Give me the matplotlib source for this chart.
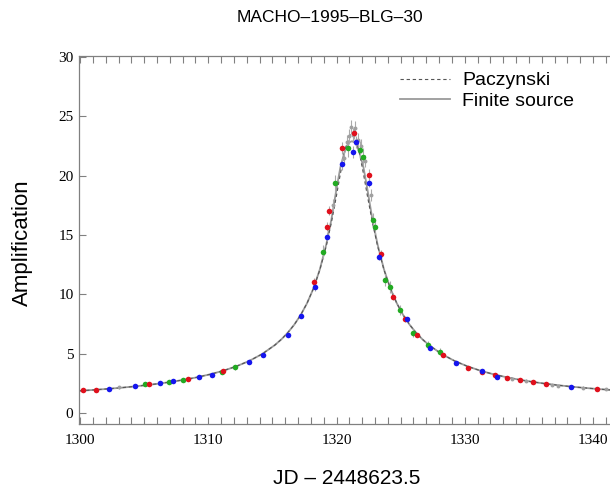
import matplotlib
matplotlib.use('Agg')
import matplotlib.pyplot as plt
from matplotlib.ticker import MultipleLocator

# model curves (JD - 2448623.5 vs amplification)
model_t = [1300.0, 1301.2, 1302.2, 1303.2, 1304.2, 1305.2, 1306.2, 1307.2, 1308.2, 1309.2,
           1310.2, 1311.2, 1312.2, 1313.2, 1314.2, 1315.2, 1315.7, 1316.2, 1316.7, 1317.2,
           1317.7, 1318.2, 1318.7, 1319.2, 1319.6, 1320.0, 1320.3, 1320.6, 1320.8, 1321.0,
           1321.2, 1321.4, 1321.6, 1321.8, 1322.1, 1322.4, 1322.8, 1323.2, 1323.7, 1324.2,
           1324.7, 1325.2, 1325.7, 1326.2, 1326.7, 1327.2, 1328.2, 1329.2, 1330.2, 1331.2,
           1332.2, 1333.2, 1334.2, 1335.2, 1336.2, 1337.2, 1338.2, 1339.2, 1340.2, 1341.2,
           1341.6]
paczynski_A = [1.867, 1.953, 2.035, 2.126, 2.230, 2.347, 2.480, 2.634, 2.813, 3.023,
               3.271, 3.569, 3.934, 4.388, 4.967, 5.728, 6.204, 6.765, 7.435, 8.247,
               9.244, 10.488, 12.063, 14.069, 16.044, 18.334, 20.150, 21.838, 22.739, 23.335,
               23.545, 23.335, 22.739, 21.838, 20.150, 18.334, 16.044, 14.069, 12.063, 10.488,
               9.244, 8.247, 7.435, 6.765, 6.204, 5.728, 4.967, 4.388, 3.934, 3.569,
               3.271, 3.023, 2.813, 2.634, 2.480, 2.347, 2.230, 2.126, 2.035, 1.953,
               1.925]
finite_A = [1.867, 1.953, 2.035, 2.126, 2.230, 2.347, 2.480, 2.634, 2.813, 3.023,
            3.271, 3.569, 3.934, 4.388, 4.967, 5.728, 6.204, 6.765, 7.435, 8.247,
            9.244, 10.488, 12.1, 14.2, 16.3, 18.9, 20.7, 21.9, 22.5, 22.8,
            22.9, 22.8, 22.5, 21.9, 20.7, 18.9, 16.3, 14.2, 12.1, 10.488,
            9.244, 8.247, 7.435, 6.765, 6.204, 5.728, 4.967, 4.388, 3.934, 3.569,
            3.271, 3.023, 2.813, 2.634, 2.480, 2.347, 2.230, 2.126, 2.035, 1.953,
            1.925]

# observed points
red_t = [1300.26, 1301.22, 1305.4, 1308.44, 1311.17, 1318.24, 1319.23, 1319.43, 1320.45, 1321.36,
         1322.55, 1323.46, 1324.42, 1325.33, 1326.29, 1328.32, 1330.27, 1331.35, 1332.35, 1333.26,
         1334.29, 1335.33, 1336.32, 1340.32]
red_A = [1.94, 1.94, 2.42, 2.86, 3.51, 11.06, 15.7, 17.04, 22.3, 23.6,
         20.05, 13.4, 9.8, 7.9, 6.57, 4.89, 3.82, 3.45, 3.20, 2.97,
         2.78, 2.64, 2.44, 2.05]
red_err = [0.1, 0.1, 0.1, 0.1, 0.15, 0.3, 0.4, 0.4, 0.5, 0.5,
           0.5, 0.3, 0.3, 0.2, 0.2, 0.15, 0.1, 0.1, 0.1, 0.1,
           0.1, 0.1, 0.1, 0.1]

blue_t = [1302.29, 1304.29, 1306.24, 1307.22, 1309.3, 1310.26, 1313.2, 1314.24, 1316.24, 1317.22,
          1318.3, 1319.23, 1320.4, 1321.3, 1321.51, 1322.55, 1323.33, 1325.46, 1327.28, 1329.31,
          1331.31, 1332.48, 1338.32]
blue_A = [2.05, 2.30, 2.55, 2.67, 3.06, 3.23, 4.32, 4.89, 6.6, 8.17,
          10.6, 14.85, 21.0, 22.0, 22.8, 19.4, 13.17, 7.89, 5.45, 4.24,
          3.54, 3.06, 2.22]
blue_err = [0.1, 0.1, 0.1, 0.1, 0.1, 0.1, 0.15, 0.15, 0.2, 0.2,
            0.3, 0.4, 0.5, 0.5, 0.5, 0.4, 0.3, 0.2, 0.15, 0.15,
            0.1, 0.1, 0.1]

green_t = [1305.07, 1306.9, 1308.05, 1311.04, 1312.08, 1318.96, 1319.88, 1320.91, 1321.82, 1322.08,
           1322.86, 1322.99, 1323.77, 1324.16, 1324.94, 1325.98, 1327.15, 1328.06]
green_A = [2.42, 2.6, 2.78, 3.45, 3.85, 13.59, 19.35, 22.3, 22.2, 21.6,
           16.26, 15.7, 11.2, 10.64, 8.68, 6.71, 5.73, 5.16]
green_err = [0.15, 0.15, 0.15, 0.2, 0.2, 0.6, 0.7, 0.7, 0.7, 0.7,
             0.6, 0.6, 0.5, 0.5, 0.4, 0.35, 0.3, 0.3]

gray_t = [1303.0, 1319.7, 1320.6, 1320.8, 1321.0, 1321.1, 1321.25, 1321.45, 1321.65, 1321.9,
          1322.2, 1322.7, 1333.7, 1334.8, 1336.8, 1337.28, 1339.23, 1341.05]
gray_A = [2.15, 17.5, 21.5, 22.8, 23.3, 24.1, 23.4, 24.0, 23.0, 22.5,
          21.2, 18.4, 2.9, 2.72, 2.37, 2.27, 2.13, 2.0]
gray_err = [0.1, 0.5, 0.6, 0.6, 0.6, 0.6, 0.6, 0.6, 0.6, 0.6,
            0.5, 0.5, 0.1, 0.1, 0.1, 0.1, 0.1, 0.1]

sans = 'Liberation Sans'
serif = 'Liberation Serif'

fig = plt.figure(figsize=(6.10, 4.93), dpi=100)
ax = fig.add_axes([79 / 610, 1 - 424 / 493, (612 - 79) / 610, (424 - 56) / 493])

ax.plot(model_t, finite_A, color='#9a9a9a', lw=1.3, label='Finite source', zorder=2)
ax.plot(model_t, paczynski_A, color='#555555', lw=0.8, ls=(0, (3, 2.5)), label='Paczynski', zorder=3)

for t, a, e, c, ms in [(gray_t, gray_A, gray_err, '#a0a0a0', 2.8),
                       (green_t, green_A, green_err, '#22aa22', 4),
                       (red_t, red_A, red_err, '#e0101c', 4),
                       (blue_t, blue_A, blue_err, '#1515ee', 4)]:
    ax.errorbar(t, a, yerr=e, fmt='o', color=c, ms=ms, mew=0,
                ecolor='#aaaaaa', elinewidth=0.8, capsize=0, zorder=4)

ax.set_xlim(1299.92, 1341.48)
ax.set_ylim(-0.93, 30.08)

ax.xaxis.set_major_locator(MultipleLocator(10))
ax.xaxis.set_minor_locator(MultipleLocator(1))
ax.yaxis.set_major_locator(MultipleLocator(5))
ax.tick_params(axis='x', which='both', direction='in', top=True, length=5, width=0.8,
               color='#808080', pad=7)
ax.tick_params(axis='y', which='both', direction='in', right=False, length=5, width=0.8,
               color='#808080', pad=4)
for lab in ax.get_xticklabels() + ax.get_yticklabels():
    lab.set_fontfamily(serif)
    lab.set_fontsize(11)

ax.spines['right'].set_visible(False)
for s in ['left', 'bottom', 'top']:
    ax.spines[s].set_color('#808080')
    ax.spines[s].set_linewidth(0.9)

fig.text(330 / 610, 1 - 18 / 493, 'MACHO–1995–BLG–30', ha='center', va='center',
         family=sans, fontsize=12.5)
fig.text(347 / 610, 1 - 479 / 493, 'JD – 2448623.5', ha='center', va='center',
         family=sans, fontsize=15)
fig.text(22 / 610, 1 - 243 / 493, 'Amplification', ha='center', va='center',
         rotation=90, family=sans, fontsize=16)

handles, labels = ax.get_legend_handles_labels()
ax.legend(handles[::-1], labels[::-1], loc='upper left', frameon=False,
          bbox_to_anchor=(390 / 610, 1 - 62 / 493), bbox_transform=fig.transFigure,
          borderpad=0, handlelength=2.6, handletextpad=0.6, labelspacing=0.15,
          prop={'family': sans, 'size': 14})

fig.savefig('out.png', dpi=100)
